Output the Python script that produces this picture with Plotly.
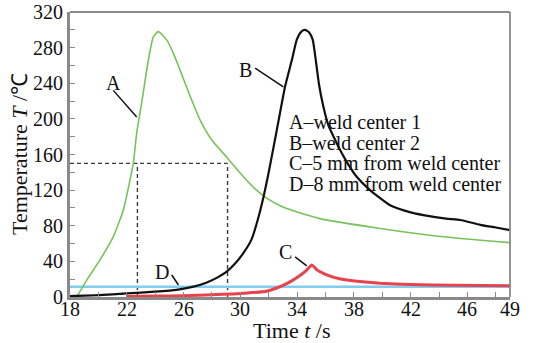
import plotly.graph_objects as go

# ---- data ----
a_x = [18.47, 19.18, 20.11, 21.05, 21.76, 22.23, 22.46, 22.7, 23.05, 23.52, 23.87, 24.22, 24.8, 25.3, 25.75, 26.4, 27.16, 28.0, 29.04, 30.0, 31.0, 31.86, 33.0, 35.6, 39.85, 44.1, 49]
a_y = [0, 19, 41.6, 67.8, 97.8, 131.5, 150, 184, 218, 266, 292, 298, 289, 273, 255, 228, 199, 176, 157, 139, 122, 111, 101, 88, 77, 68, 61]

b_x = [18, 20, 22, 24, 25.5, 26.7, 27.6, 28.4, 29.04, 29.6, 30.2, 30.8, 31.2, 31.6, 32.0, 32.6, 33.15, 33.63, 33.98, 34.3, 34.56, 34.85, 35.1, 35.3, 35.55, 35.85, 36.2, 36.6, 37.03, 37.6, 38.2, 39.14, 40.55, 42.0, 42.9, 44.5, 45.5, 46.9, 48, 49]
b_y = [1, 2, 4, 6, 8, 11.6, 16, 22, 28.5, 37, 49, 65, 85, 110, 140, 190, 236, 266, 289, 298, 300, 297, 289, 268, 238, 214, 193, 179, 165, 149, 135, 120, 103, 95, 92, 88, 86.5, 81, 78, 75]

c_x = [22, 24, 26, 28, 29.5, 30.5, 31.86, 32.8, 33.5, 34.1, 34.6, 35.03, 35.4, 35.85, 36.6, 37.5, 38.6, 39.85, 42, 45, 49]
c_y = [0.5, 1, 1.5, 2.5, 3.5, 4.5, 6.5, 11.6, 17, 23, 29, 36, 30.5, 26.6, 22, 19, 17, 15.4, 14, 13.2, 12.5]

d_x = [18, 49]
d_y = [11.6, 11.6]

x_ticks = [18, 22, 26, 30, 34, 38, 42, 46, 49]
y_ticks = [0, 40, 80, 120, 160, 200, 240, 280, 320]

legend_lines = ["A–weld center 1", "B–weld center 2",
                "C–5 mm from weld center", "D–8 mm from weld center"]

# guide (dashed) lines
guide_h_x = [18, 29.1]
guide_h_y = [150, 150]
guide_v1_x = [22.75, 22.75]
guide_v2_x = [29.1, 29.1]
guide_v_y = [0, 150]

# curve label annotations: text, text pos, leader line
labels = [
    ("A", 21.05, 240, [21.05, 22.7], [232, 202]),
    ("B", 30.33, 255, [31.04, 33.03], [257, 236]),
    ("C", 33.15, 51, [33.86, 34.68], [45, 35]),
    ("D", 24.46, 28.5, [25.17, 25.64], [24.7, 13.5]),
]

FONT = "Liberation Serif"
TXT = "#111111"
AX = "#8a8a8a"

# plot area in pixels
L, R, T, B = 70, 510, 12, 297
W, H = 536, 343

fig = go.Figure()

for gx, gy in [(guide_h_x, guide_h_y), (guide_v1_x, guide_v_y), (guide_v2_x, guide_v_y)]:
    fig.add_trace(go.Scatter(x=gx, y=gy, mode="lines",
                             line=dict(color="#3a3a3a", width=1.4, dash="4px,3px"),
                             hoverinfo="skip", showlegend=False))

fig.add_trace(go.Scatter(x=d_x, y=d_y, mode="lines", line=dict(color="#82CDEE", width=2.5), showlegend=False))
fig.add_trace(go.Scatter(x=a_x, y=a_y, mode="lines", line=dict(color="#78C25A", width=1.6, shape="spline", smoothing=0.5), showlegend=False))
fig.add_trace(go.Scatter(x=b_x, y=b_y, mode="lines", line=dict(color="#111111", width=2.2, shape="spline", smoothing=0.5), showlegend=False))
fig.add_trace(go.Scatter(x=c_x, y=c_y, mode="lines", line=dict(color="#E8424C", width=3, shape="spline", smoothing=0.4), showlegend=False))

for txt, tx, ty, lx, ly in labels:
    fig.add_trace(go.Scatter(x=lx, y=ly, mode="lines", line=dict(color="#111111", width=1.5),
                             hoverinfo="skip", showlegend=False))
    fig.add_annotation(x=tx, y=ty, text=txt, showarrow=False,
                       font=dict(family=FONT, size=20, color=TXT))

def px(xp):
    return (xp - L) / (R - L)

def py(yp):
    return (B - yp) / (B - T)

for i, line in enumerate(legend_lines):
    fig.add_annotation(xref="paper", yref="paper", x=px(287), y=py(122 + 20.7 * i),
                       xanchor="left", yanchor="middle", text=line, showarrow=False,
                       font=dict(family=FONT, size=20, color=TXT))

# x tick labels placed close to the axis, as in the reference
for t in x_ticks:
    fig.add_annotation(x=t, xref="x", yref="paper", y=py(309), xanchor="center", yanchor="middle",
                       text=str(t), showarrow=False, font=dict(family=FONT, size=20, color=TXT))

# axis titles
fig.add_annotation(xref="paper", yref="paper", x=px(291), y=py(330), xanchor="center", yanchor="middle",
                   text="Time <i>t</i> /s", showarrow=False, font=dict(family=FONT, size=22, color=TXT))
fig.add_annotation(xref="paper", yref="paper", x=px(19), y=py(154), xanchor="center", yanchor="middle",
                   text="Temperature <i>T</i> /℃", textangle=-90, showarrow=False,
                   font=dict(family=FONT, size=22, color=TXT))

axis_common = dict(showline=True, linecolor=AX, linewidth=3, ticks="inside",
                   tickcolor=AX, ticklen=5, tickwidth=1.2, showgrid=False, zeroline=False,
                   automargin=False, tickfont=dict(family=FONT, size=20, color=TXT))

fig.update_xaxes(range=[18, 49], tickvals=x_ticks, showticklabels=False,
                 minor=dict(ticks="inside", tick0=18, dtick=2, ticklen=5, tickcolor=AX, tickwidth=1.2),
                 **axis_common)
fig.update_yaxes(range=[0, 320], tickvals=y_ticks,
                 minor=dict(ticks="inside", tick0=0, dtick=20, ticklen=5, tickcolor=AX, tickwidth=1.2),
                 **axis_common)

fig.add_shape(type="line", xref="paper", yref="paper", x0=0, x1=1, y0=1, y1=1, line=dict(color=AX, width=1.8))
fig.add_shape(type="line", xref="paper", yref="paper", x0=1, x1=1, y0=0, y1=1, line=dict(color=AX, width=1.8))

fig.update_layout(width=W, height=H, margin=dict(l=L, r=W - R, t=T, b=H - B),
                  paper_bgcolor="white", plot_bgcolor="white", showlegend=False)

fig.write_html("out.html", config={"displayModeBar": False},
               post_script="document.body.style.margin='0';document.body.style.overflow='hidden';")
